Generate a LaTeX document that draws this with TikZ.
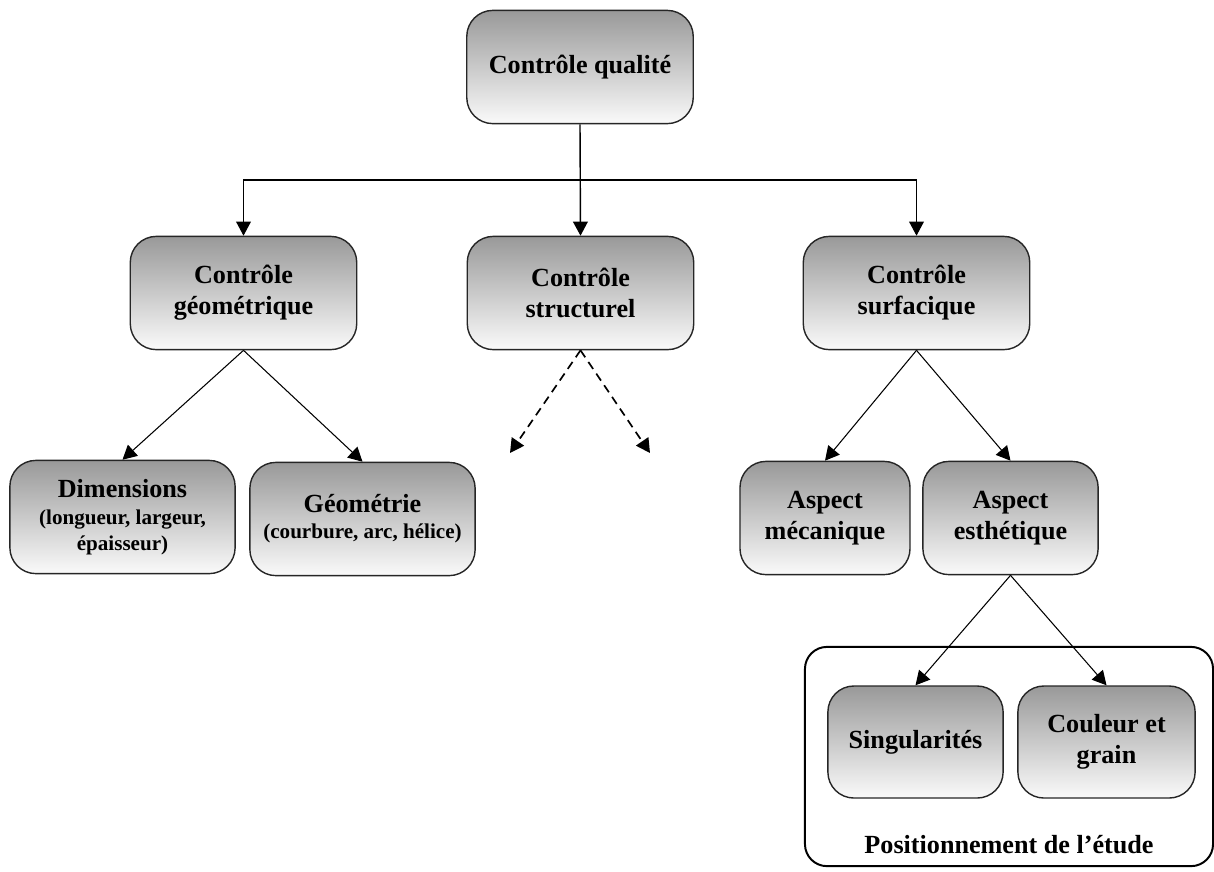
\documentclass[tikz,border=0pt]{standalone}
\usepackage{fontspec}
\setmainfont{Liberation Serif}
\usepackage{tikz}
\usetikzlibrary{arrows.meta,shapes}

\newcommand{\lblfont}{\fontsize{18.6}{22}\selectfont\bfseries}
\newcommand{\subfont}{\fontsize{15}{18}\selectfont\bfseries}

\tikzset{
  box/.style={draw=black!85, line width=1pt, rounded corners=0.65cm,
    top color=black!40, bottom color=black!2, align=center, font=\lblfont,
    minimum width=5.66cm, minimum height=2.83cm, inner sep=2pt},
  conn/.style={line width=0.75pt, -{Triangle[length=10pt,width=10.5pt]}},
  dconn/.style={conn, line width=1.2pt, dash pattern=on 6pt off 4pt},
}

\begin{document}
\begin{tikzpicture}[x=0.025cm, y=-0.025cm]
\useasboundingbox (0,0) rectangle (1214,871);

\node[box] (qualite) at (580,67) {Contrôle qualité};

\node[box] (geom) at (243.5,293) {Contrôle\\géométrique};
\node[box] (struct) at (580.5,293) {Contrôle\\structurel};
\node[box] (surf) at (916.5,293) {Contrôle\\surfacique};

\node[box, minimum width=5.63cm] (dim) at (122.5,517)
  {Dimensions\\[-3pt]\subfont (longueur, largeur,\\[-3.5pt]\subfont épaisseur)};
\node[box, minimum width=5.63cm] (geomet) at (362.5,519)
  {Géométrie\\[-3.5pt]\subfont (courbure, arc, hélice)};

\node[box, minimum width=4.25cm] (meca) at (825,518) {Aspect\\mécanique};
\node[box, minimum width=4.38cm] (esth) at (1010.5,518) {Aspect\\esthétique};

\node[draw, line width=1.4pt, rounded corners=0.55cm, minimum width=10.2cm,
  minimum height=5.48cm] (etude) at (1009,756.5) {};
\node[font=\lblfont] (etudelbl) at (1009,845) {Positionnement de l'étude};

\node[box, minimum width=4.38cm, minimum height=2.8cm] (sing) at (915.5,742) {Singularités};
\node[box, minimum width=4.43cm, minimum height=2.8cm] (coul) at (1106.5,742) {Couleur et\\grain};

\coordinate (split) at (580.5,180);
\coordinate (dl) at (510,453);
\coordinate (dr) at (650,453);

\draw[conn, line width=1pt] (qualite.south) -- (struct.north);
\draw[conn] (split) -| (geom.north);
\draw[conn] (split) -| (surf.north);

\draw[conn] (geom.south) -- (dim.north);
\draw[conn] (geom.south) -- (geomet.north);

\draw[dconn] (struct.south) -- (dl);
\draw[dconn] (struct.south) -- (dr);

\draw[conn] (surf.south) -- (meca.north);
\draw[conn] (surf.south) -- (esth.north);

\draw[conn] (esth.south) -- (sing.north);
\draw[conn] (esth.south) -- (coul.north);
\end{tikzpicture}
\end{document}
